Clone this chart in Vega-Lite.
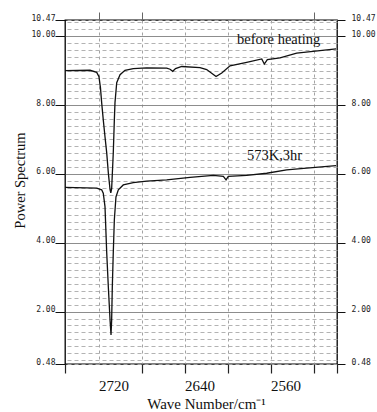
{
  "$schema": "https://vega.github.io/schema/vega-lite/v6.json",
  "width": 272,
  "height": 344,
  "autosize": "none",
  "padding": {"left": 65, "top": 20, "right": 40, "bottom": 48},
  "background": "white",
  "config": {
    "view": {"stroke": "#000", "strokeWidth": 1.3},
    "axis": {"domain": false, "labelOverlap": false, "labelFlush": false, "labelBound": false}
  },
  "datasets": {
    "spectra": [
      {"series": "before heating", "wn": 2765, "ps": 9.00},
      {"series": "before heating", "wn": 2741.7, "ps": 9.01},
      {"series": "before heating", "wn": 2735.5, "ps": 8.95},
      {"series": "before heating", "wn": 2733.4, "ps": 8.82},
      {"series": "before heating", "wn": 2732.0, "ps": 8.50},
      {"series": "before heating", "wn": 2730.9, "ps": 8.07},
      {"series": "before heating", "wn": 2729.4, "ps": 7.57},
      {"series": "before heating", "wn": 2727.8, "ps": 7.08},
      {"series": "before heating", "wn": 2726.2, "ps": 6.61},
      {"series": "before heating", "wn": 2724.7, "ps": 6.03},
      {"series": "before heating", "wn": 2723.1, "ps": 5.54},
      {"series": "before heating", "wn": 2722.4, "ps": 5.45},
      {"series": "before heating", "wn": 2721.6, "ps": 5.57},
      {"series": "before heating", "wn": 2720.1, "ps": 6.61},
      {"series": "before heating", "wn": 2719.1, "ps": 7.57},
      {"series": "before heating", "wn": 2718.5, "ps": 8.07},
      {"series": "before heating", "wn": 2716.9, "ps": 8.65},
      {"series": "before heating", "wn": 2713.8, "ps": 8.88},
      {"series": "before heating", "wn": 2709.2, "ps": 9.01},
      {"series": "before heating", "wn": 2701.5, "ps": 9.06},
      {"series": "before heating", "wn": 2689.0, "ps": 9.08},
      {"series": "before heating", "wn": 2670.4, "ps": 9.07},
      {"series": "before heating", "wn": 2667.3, "ps": 9.04},
      {"series": "before heating", "wn": 2664.8, "ps": 8.98},
      {"series": "before heating", "wn": 2662.2, "ps": 9.06},
      {"series": "before heating", "wn": 2656.4, "ps": 9.12},
      {"series": "before heating", "wn": 2639.4, "ps": 9.09},
      {"series": "before heating", "wn": 2633.2, "ps": 9.03},
      {"series": "before heating", "wn": 2629.2, "ps": 8.94},
      {"series": "before heating", "wn": 2624.5, "ps": 8.83},
      {"series": "before heating", "wn": 2619.2, "ps": 8.93},
      {"series": "before heating", "wn": 2611.5, "ps": 9.14},
      {"series": "before heating", "wn": 2596.0, "ps": 9.24},
      {"series": "before heating", "wn": 2582.0, "ps": 9.34},
      {"series": "before heating", "wn": 2579.6, "ps": 9.19},
      {"series": "before heating", "wn": 2576.8, "ps": 9.32},
      {"series": "before heating", "wn": 2565.0, "ps": 9.37},
      {"series": "before heating", "wn": 2549.5, "ps": 9.51},
      {"series": "before heating", "wn": 2534.3, "ps": 9.56},
      {"series": "before heating", "wn": 2512.9, "ps": 9.63},
      {"series": "573K,3hr", "wn": 2765, "ps": 5.61},
      {"series": "573K,3hr", "wn": 2735.5, "ps": 5.59},
      {"series": "573K,3hr", "wn": 2730.9, "ps": 5.54},
      {"series": "573K,3hr", "wn": 2729.4, "ps": 5.44},
      {"series": "573K,3hr", "wn": 2727.8, "ps": 5.05},
      {"series": "573K,3hr", "wn": 2726.2, "ps": 3.71},
      {"series": "573K,3hr", "wn": 2724.7, "ps": 2.72},
      {"series": "573K,3hr", "wn": 2723.1, "ps": 1.76},
      {"series": "573K,3hr", "wn": 2722.2, "ps": 1.32},
      {"series": "573K,3hr", "wn": 2721.6, "ps": 1.76},
      {"series": "573K,3hr", "wn": 2721.0, "ps": 2.72},
      {"series": "573K,3hr", "wn": 2720.1, "ps": 3.71},
      {"series": "573K,3hr", "wn": 2719.1, "ps": 4.67},
      {"series": "573K,3hr", "wn": 2717.6, "ps": 5.33},
      {"series": "573K,3hr", "wn": 2715.4, "ps": 5.54},
      {"series": "573K,3hr", "wn": 2710.8, "ps": 5.68},
      {"series": "573K,3hr", "wn": 2701.5, "ps": 5.75},
      {"series": "573K,3hr", "wn": 2689.0, "ps": 5.79},
      {"series": "573K,3hr", "wn": 2670.4, "ps": 5.83},
      {"series": "573K,3hr", "wn": 2648.7, "ps": 5.90},
      {"series": "573K,3hr", "wn": 2627.0, "ps": 5.96},
      {"series": "573K,3hr", "wn": 2617.7, "ps": 5.93},
      {"series": "573K,3hr", "wn": 2615.2, "ps": 5.83},
      {"series": "573K,3hr", "wn": 2613.1, "ps": 5.93},
      {"series": "573K,3hr", "wn": 2596.0, "ps": 5.96},
      {"series": "573K,3hr", "wn": 2577.4, "ps": 6.02},
      {"series": "573K,3hr", "wn": 2558.8, "ps": 6.12},
      {"series": "573K,3hr", "wn": 2540.2, "ps": 6.17},
      {"series": "573K,3hr", "wn": 2512.9, "ps": 6.24}
    ],
    "labels": [
      {"wn": 2605, "ps": 9.78, "label": "before heating"},
      {"wn": 2595.7, "ps": 6.41, "label": "573K,3hr"}
    ]
  },
  "layer": [
    {
      "data": {"name": "spectra"},
      "mark": {"type": "line", "color": "#111", "strokeWidth": 1.3, "interpolate": "linear"},
      "encoding": {
        "detail": {"field": "series", "type": "nominal"},
        "x": {
          "field": "wn", "type": "quantitative",
          "scale": {"domain": [2512, 2765], "reverse": true, "nice": false, "zero": false},
          "axis": {
            "orient": "bottom",
            "values": [2765, 2733, 2720, 2693, 2653, 2640, 2613, 2573, 2560, 2533, 2512],
            "labelExpr": "indexof([2720,2640,2560], datum.value) >= 0 ? format(datum.value, 'd') : ''",
            "labelFont": "Liberation Serif", "labelFontSize": 15, "labelColor": "#111",
            "labelPadding": 5, "labelBaseline": "top",
            "tickSize": 9, "tickColor": "#222", "tickWidth": 1.2,
            "tickOpacity": {"condition": {"test": "indexof([2765,2693,2653,2613,2573,2533,2512], datum.value) >= 0", "value": 1}, "value": 0},
            "grid": true,
            "gridColor": "#999", "gridWidth": 0.9, "gridDash": [3, 3],
            "gridOpacity": {"condition": {"test": "indexof([2733,2693,2653,2613,2573,2533], datum.value) >= 0", "value": 1}, "value": 0},
            "title": "Wave Number/cm⁻¹",
            "titleFont": "Liberation Serif", "titleFontSize": 15, "titleFontWeight": "normal", "titleColor": "#111",
            "titleX": 141, "titleY": 44, "titleAlign": "center", "titleBaseline": "alphabetic"
          }
        },
        "y": {
          "field": "ps", "type": "quantitative",
          "scale": {"domain": [0.48, 10.47], "nice": false, "zero": false},
          "axis": {
            "orient": "left",
            "values": [0.48, 0.6, 0.8, 1, 1.2, 1.4, 1.6, 1.8, 2, 2.2, 2.4, 2.6, 2.8, 3, 3.2, 3.4, 3.6, 3.8, 4, 4.2, 4.4, 4.6, 4.8, 5, 5.2, 5.4, 5.6, 5.8, 6, 6.2, 6.4, 6.6, 6.8, 7, 7.2, 7.4, 7.6, 7.8, 8, 8.2, 8.4, 8.6, 8.8, 9, 9.2, 9.4, 9.6, 9.8, 10, 10.2, 10.4, 10.47],
            "labelExpr": "indexof([0.48,2,4,6,8,10,10.47], datum.value) >= 0 ? format(datum.value, '.2f') : ''",
            "labelFont": "DejaVu Sans Mono", "labelFontSize": 8, "labelColor": "#222",
            "labelPadding": 0, "labelBaseline": "alphabetic", "labelAlign": "right",
            "tickSize": 10, "tickColor": "#111", "tickWidth": 1,
            "tickOpacity": {"condition": {"test": "indexof([0.48,2,4,6,8,10,10.47], datum.value) >= 0", "value": 1}, "value": 0},
            "grid": true,
            "gridColor": {"condition": {"test": "indexof([2,4,6,8,10], datum.value) >= 0", "value": "#808080"}, "value": "#aaaaaa"},
            "gridDash": {"condition": {"test": "indexof([2,4,6,8,10], datum.value) >= 0", "value": []}, "value": [4, 3]},
            "gridWidth": 0.9,
            "title": "Power Spectrum",
            "titleFont": "Liberation Serif", "titleFontSize": 14.5, "titleFontWeight": "normal", "titleColor": "#111",
            "titleAngle": 270, "titleX": -41, "titleY": 160, "titleAlign": "center", "titleBaseline": "alphabetic"
          }
        }
      }
    },
    {
      "data": {"name": "labels"},
      "mark": {"type": "text", "align": "left", "baseline": "alphabetic", "font": "Liberation Serif", "fontSize": 14.5, "color": "#111"},
      "encoding": {
        "text": {"field": "label", "type": "nominal"},
        "x": {
          "field": "wn", "type": "quantitative",
          "axis": {"orient": "top", "values": [2733, 2693, 2533], "labels": false, "tickSize": 8, "tickColor": "#666", "grid": false, "title": null}
        },
        "y": {
          "field": "ps", "type": "quantitative",
          "axis": {
            "orient": "right",
            "values": [0.48, 2, 4, 6, 8, 10, 10.47],
            "format": ".2f",
            "labelFont": "DejaVu Sans Mono", "labelFontSize": 8, "labelColor": "#222",
            "labelPadding": 6, "labelBaseline": "alphabetic", "labelAlign": "left",
            "tickSize": 8, "tickColor": "#111", "tickWidth": 1,
            "grid": false, "title": null
          }
        }
      }
    }
  ],
  "resolve": {"axis": {"x": "independent", "y": "independent"}}
}
